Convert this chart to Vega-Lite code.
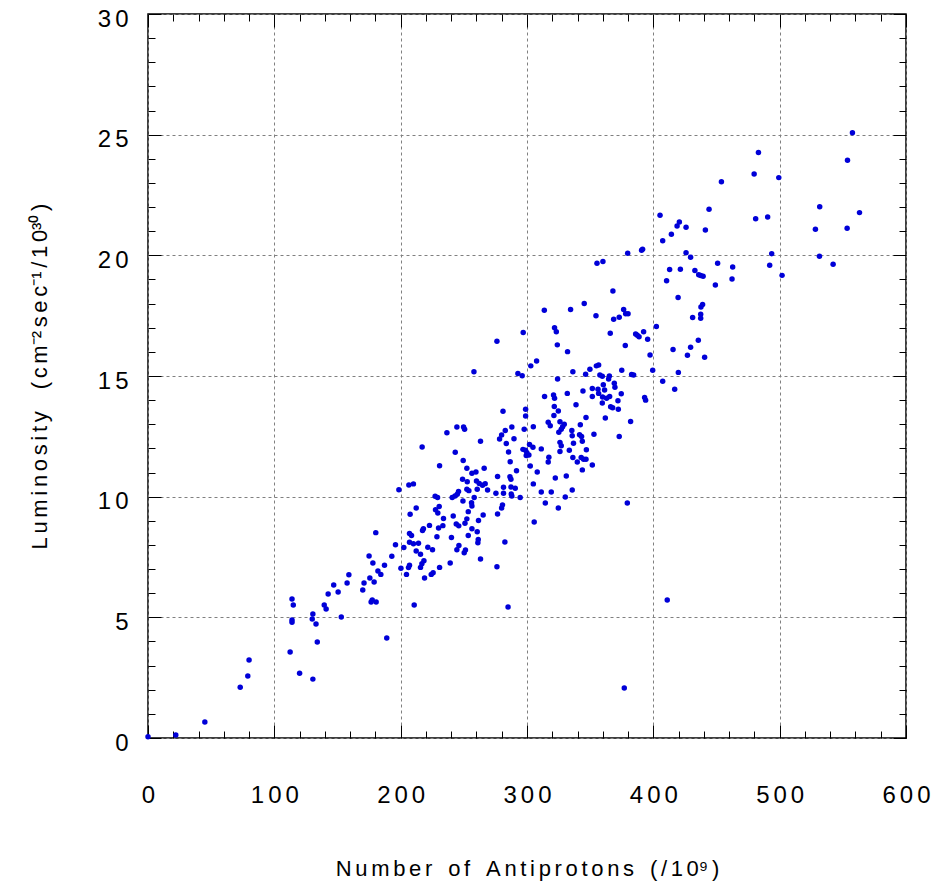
{
"$schema": "https://vega.github.io/schema/vega-lite/v6.json",
"width": 758, "height": 724,
"autosize": "none",
"padding": {"left": 148, "top": 14, "right": 28, "bottom": 151},
"background": "white",
"config": {
 "view": {"stroke": "black", "strokeWidth": 1.5},
 "axis": {"labelFont": "Liberation Sans", "titleFont": "Liberation Sans", "domain": false, "labelColor": "black", "titleColor": "black", "titleFontWeight": "normal", "tickColor": "black", "tickWidth": 1}
},
"data": {"values": [
{"a":0,"l":0.05},{"a":22,"l":0.12},{"a":45,"l":0.66},{"a":73,"l":2.1},{"a":79,"l":2.57},{"a":80,"l":3.23},{"a":112.5,"l":3.56},{"a":120,"l":2.68},{"a":130.5,"l":2.44},{"a":134,"l":3.98},{"a":114,"l":5.76},{"a":115,"l":5.51},{"a":114,"l":4.89},{"a":114,"l":4.8},{"a":130,"l":4.93},{"a":130.5,"l":5.14},{"a":133,"l":4.72},{"a":139.5,"l":5.51},{"a":141,"l":5.35},{"a":142.6,"l":5.97},{"a":147,"l":6.34},{"a":150.5,"l":6.05},{"a":153,"l":5.01},{"a":157.6,"l":6.42},{"a":159,"l":6.76},{"a":170,"l":6.13},{"a":171,"l":6.42},{"a":175,"l":7.54},{"a":175.6,"l":6.63},{"a":178,"l":7.25},{"a":179,"l":6.46},{"a":176.6,"l":5.64},{"a":177.5,"l":5.72},{"a":180.6,"l":5.64},{"a":182,"l":6.92},
{"a":189,"l":4.14},{"a":210.7,"l":5.51},{"a":285,"l":5.43},{"a":377,"l":2.07},{"a":411,"l":5.72},{"a":379.4,"l":9.74},
{"a":281,"l":13.54},{"a":244.5,"l":12.89},{"a":249.8,"l":12.89},{"a":250.6,"l":12.79},{"a":236.6,"l":12.65},{"a":288,"l":12.89},{"a":282.8,"l":12.74},{"a":279.9,"l":12.56},{"a":278.3,"l":12.39},{"a":289.7,"l":12.4},{"a":263.2,"l":12.3},{"a":283.6,"l":12.2},{"a":217,"l":12.06},{"a":243.2,"l":11.84},{"a":285.4,"l":11.85},{"a":249.5,"l":11.5},{"a":286.7,"l":11.45},{"a":230.8,"l":11.28},{"a":252.4,"l":11.18},{"a":266.1,"l":11.18},{"a":291.7,"l":11.07},{"a":256.4,"l":10.97},{"a":259.6,"l":11.02},{"a":276.7,"l":10.84},{"a":286.5,"l":10.83},{"a":287.3,"l":10.72},{"a":249,"l":10.72},{"a":252.7,"l":10.62},{"a":260,"l":10.65},{"a":262.2,"l":10.55},{"a":264.8,"l":10.47},{"a":266.9,"l":10.54},{"a":206.5,"l":10.48},{"a":210.1,"l":10.53},{"a":198.6,"l":10.29},{"a":281.4,"l":10.39},{"a":287.3,"l":10.4},{"a":290.7,"l":10.35},{"a":268.8,"l":10.28},{"a":252.4,"l":10.31},{"a":254,"l":10.25},{"a":260.6,"l":10.31},{"a":245.8,"l":10.21},{"a":244.8,"l":10.1},{"a":243,"l":10.03},{"a":240.8,"l":9.97},{"a":275.4,"l":10.14},{"a":281.4,"l":10.14},{"a":287.5,"l":10.11},{"a":288,"l":10.03},{"a":294.6,"l":9.97},{"a":227.3,"l":10.02},{"a":229.2,"l":9.97},{"a":258.2,"l":9.97},{"a":249.3,"l":9.82},{"a":256.1,"l":9.75},{"a":256.4,"l":9.61},{"a":212.3,"l":9.53},{"a":230.5,"l":9.59},{"a":227.6,"l":9.46},{"a":229.4,"l":9.32},{"a":207.5,"l":9.27},{"a":253.5,"l":9.38},{"a":280.6,"l":9.66},{"a":279.9,"l":9.53},{"a":276.7,"l":9.28},{"a":265.3,"l":9.24},{"a":233.9,"l":9.1},{"a":241.6,"l":9.2},{"a":252.4,"l":9.08},{"a":250.9,"l":8.9},{"a":261.6,"l":9.01},{"a":222.8,"l":8.81},{"a":233.4,"l":8.8},{"a":230,"l":8.7},{"a":244,"l":8.87},{"a":246,"l":8.79},{"a":217.3,"l":8.6},{"a":218,"l":8.67},{"a":256.4,"l":8.67},{"a":260.6,"l":8.55},{"a":207,"l":8.47},{"a":208.6,"l":8.39},{"a":180.3,"l":8.51},{"a":228.7,"l":8.34},{"a":240.2,"l":8.31},{"a":253.5,"l":8.39},{"a":261.4,"l":8.23},{"a":261.1,"l":8.09},{"a":282.5,"l":8.12},{"a":195.9,"l":8.01},{"a":207,"l":8.11},{"a":210.1,"l":8.05},{"a":214.1,"l":8.07},{"a":202.5,"l":7.89},{"a":221.5,"l":7.9},{"a":225.2,"l":7.8},{"a":246.1,"l":7.98},{"a":244.5,"l":7.8},{"a":212.3,"l":7.75},{"a":215.7,"l":7.61},{"a":251.3,"l":7.79},{"a":250.3,"l":7.68},{"a":193,"l":7.53},{"a":187.2,"l":7.16},{"a":218.4,"l":7.34},{"a":216.8,"l":7.22},{"a":215.7,"l":7.07},{"a":207,"l":7.16},{"a":206.2,"l":7.06},{"a":239.2,"l":7.25},{"a":230.8,"l":7.07},{"a":263.2,"l":7.42},{"a":276.2,"l":7.1},{"a":200.2,"l":7.03},{"a":184.3,"l":6.78},{"a":225.7,"l":6.85},{"a":224.2,"l":6.78},{"a":204.6,"l":6.78},{"a":218.9,"l":6.63},
{"a":368,"l":18.52},{"a":345.3,"l":18.0},{"a":334.5,"l":17.76},{"a":313.7,"l":17.72},{"a":354.6,"l":17.5},{"a":368.6,"l":17.35},{"a":373,"l":17.43},{"a":321.8,"l":17.0},{"a":323.2,"l":16.83},{"a":297,"l":16.8},{"a":365.9,"l":16.77},{"a":276.2,"l":16.44},{"a":324,"l":16.29},{"a":332.1,"l":16.01},{"a":307.6,"l":15.62},{"a":303,"l":15.42},{"a":258,"l":15.18},{"a":292.8,"l":15.1},{"a":296.2,"l":15.01},{"a":336.3,"l":15.18},{"a":346.4,"l":15.07},{"a":349.8,"l":15.28},{"a":354.9,"l":15.42},{"a":356.7,"l":15.46},{"a":324.2,"l":14.88},{"a":357.7,"l":15.04},{"a":359.6,"l":14.99},{"a":365.2,"l":15.0},{"a":364.6,"l":14.88},{"a":360.4,"l":14.64},{"a":369.1,"l":14.7},{"a":369.6,"l":14.53},{"a":351.7,"l":14.48},{"a":356.2,"l":14.45},{"a":361.4,"l":14.42},{"a":356.7,"l":14.28},{"a":359.8,"l":14.13},{"a":363,"l":14.08},{"a":365.4,"l":14.15},{"a":344.3,"l":14.38},{"a":351.7,"l":14.15},{"a":331.9,"l":14.28},{"a":321,"l":14.21},{"a":321.8,"l":14.08},{"a":313.9,"l":14.15},{"a":372,"l":13.97},{"a":359.6,"l":13.88},{"a":338.8,"l":13.81},{"a":321.6,"l":13.74},{"a":366.2,"l":13.73},{"a":367.8,"l":13.68},{"a":372.3,"l":13.62},{"a":298.9,"l":13.62},{"a":298.9,"l":13.34},{"a":324.8,"l":13.55},{"a":321.3,"l":13.36},{"a":346.7,"l":13.28},{"a":362,"l":13.26},{"a":316.8,"l":13.08},{"a":318.4,"l":12.94},{"a":326.1,"l":13.1},{"a":329.5,"l":13.0},{"a":328.2,"l":12.9},{"a":327.1,"l":12.79},{"a":342.2,"l":12.98},{"a":325.2,"l":12.67},{"a":335.5,"l":12.74},{"a":353,"l":12.59},{"a":341.6,"l":12.57},{"a":343.2,"l":12.49},{"a":343.8,"l":12.3},{"a":335.8,"l":12.52},{"a":305,"l":12.9},{"a":297.8,"l":12.79},{"a":296.8,"l":11.96},{"a":298.8,"l":11.92},{"a":299.9,"l":11.82},{"a":302,"l":12.16},{"a":304.7,"l":12.05},{"a":301.5,"l":11.73},{"a":299.4,"l":11.71},{"a":311.3,"l":11.98},{"a":326.1,"l":12.25},{"a":327.1,"l":12.11},{"a":326.1,"l":11.87},{"a":333.5,"l":11.92},{"a":336.8,"l":12.21},{"a":336.3,"l":11.62},{"a":342.9,"l":11.62},{"a":344.8,"l":11.55},{"a":346.7,"l":11.55},{"a":317.3,"l":11.63},{"a":373,"l":12.49},
{"a":302.6,"l":11.27},{"a":308.1,"l":11.02},{"a":305,"l":10.53},{"a":311.3,"l":10.19},{"a":316.8,"l":11.44},{"a":322.4,"l":10.77},{"a":319.2,"l":10.19},{"a":314.5,"l":9.74},{"a":305.7,"l":8.95},{"a":324.8,"l":9.53},{"a":330.3,"l":9.99},{"a":331.1,"l":10.86},{"a":335.8,"l":10.28},{"a":339.8,"l":11.44},{"a":347,"l":11.94},{"a":343.8,"l":11.11},{"a":351.7,"l":11.31},
{"a":444.1,"l":21.91},{"a":405.3,"l":21.66},{"a":420.6,"l":21.38},{"a":418.8,"l":21.22},{"a":425.9,"l":21.16},{"a":441.2,"l":21.05},{"a":414.3,"l":20.87},{"a":407.4,"l":20.6},{"a":391.5,"l":20.25},{"a":390.7,"l":20.21},{"a":379.7,"l":20.09},{"a":425.9,"l":20.11},{"a":429.5,"l":19.92},{"a":355.4,"l":19.67},{"a":360.1,"l":19.74},{"a":450.9,"l":19.67},{"a":412.9,"l":19.41},{"a":421.4,"l":19.42},{"a":432.9,"l":19.37},{"a":435.9,"l":19.2},{"a":437.5,"l":19.16},{"a":439.4,"l":19.13},{"a":410.5,"l":18.95},{"a":449.1,"l":18.77},{"a":419.6,"l":18.25},{"a":439,"l":17.96},{"a":437.7,"l":17.86},{"a":376.5,"l":17.76},{"a":378.1,"l":17.58},{"a":380,"l":17.58},{"a":437.5,"l":17.56},{"a":437.5,"l":17.39},{"a":431.1,"l":17.42},{"a":402.4,"l":17.05},{"a":386,"l":16.74},{"a":387.3,"l":16.69},{"a":388.7,"l":16.63},{"a":392.3,"l":16.83},{"a":395.5,"l":16.52},{"a":377.8,"l":16.26},{"a":435.6,"l":16.48},{"a":429.5,"l":16.19},{"a":415.6,"l":16.1},{"a":427,"l":15.86},{"a":440.6,"l":15.78},{"a":397.4,"l":15.87},{"a":399.5,"l":15.24},{"a":419.8,"l":15.15},{"a":407.4,"l":14.78},{"a":416.9,"l":14.45},{"a":375,"l":15.24},{"a":382.8,"l":15.06},{"a":384.4,"l":15.04},{"a":374.6,"l":14.26},{"a":393.1,"l":14.11},{"a":393.9,"l":14.0},{"a":382,"l":13.11},
{"a":557.6,"l":25.08},{"a":483.2,"l":24.26},{"a":553.7,"l":23.94},{"a":479.8,"l":23.37},{"a":499.3,"l":23.22},{"a":453.9,"l":23.05},{"a":531.7,"l":22.01},{"a":563.2,"l":21.77},{"a":481,"l":21.52},{"a":490.5,"l":21.59},{"a":528.3,"l":21.08},{"a":553.4,"l":21.12},{"a":493.7,"l":20.07},{"a":531.5,"l":19.96},{"a":462.8,"l":19.52},{"a":492.1,"l":19.59},{"a":542.3,"l":19.63},{"a":462.3,"l":19.02},{"a":501.9,"l":19.17}
]},
"layer": [
 {
  "mark": {"type": "point", "filled": true, "size": 30, "color": "#0000d8", "opacity": 1},
  "encoding": {
   "x": {"field": "a", "type": "quantitative", "scale": {"domain": [0, 600], "nice": false},
     "axis": {"orient": "bottom", "values": [0,100,200,300,400,500,600], "ticks": false, "grid": true, "gridColor": "#808080", "gridDash": [3,3], "gridWidth": 1,
       "labelFontSize": 24, "labelPadding": 45, "labelExpr": "join(split(datum.label, ''), '\u2006')", "labelFlush": false,
       "title": "N\u2006u\u2006m\u2006b\u2006e\u2006r\u00a0 \u2006o\u2006f\u00a0 \u2006A\u2006n\u2006t\u2006i\u2006p\u2006r\u2006o\u2006t\u2006o\u2006n\u2006s\u00a0 \u2006(\u2006/\u20061\u20060\u2079\u2006)", "titleFontSize": 22, "titlePadding": 51}},
   "y": {"field": "l", "type": "quantitative", "scale": {"domain": [0, 30], "nice": false},
     "axis": {"orient": "left", "values": [0,5,10,15,20,25,30], "ticks": false, "grid": true, "gridColor": "#808080", "gridDash": [3,3], "gridWidth": 1,
       "labelFontSize": 24, "labelPadding": 20, "labelOffset": 5, "labelExpr": "join(split(datum.label, ''), '\u2006')", "labelFlush": false,
       "title": "L\u2006u\u2006m\u2006i\u2006n\u2006o\u2006s\u2006i\u2006t\u2006y\u00a0 \u00a0\u2006(\u2006c\u2006m\u207b\u00b2\u2006s\u2006e\u2006c\u207b\u00b9\u2006/\u20061\u20060\u00b3\u2070\u2006)", "titleFontSize": 22, "titlePadding": 46}}
  }
 },
 {
  "mark": {"type": "point", "opacity": 0},
  "encoding": {
   "x": {"field": "a", "type": "quantitative", "axis": {"orient": "bottom", "values": [0,100,200,300,400,500,600], "labels": false, "grid": false, "ticks": true, "tickSize": -13, "title": null}},
   "y": {"field": "l", "type": "quantitative", "axis": {"orient": "left", "values": [0,5,10,15,20,25,30], "labels": false, "grid": false, "ticks": true, "tickSize": -13, "title": null}}
  }
 },
 {
  "mark": {"type": "point", "opacity": 0},
  "encoding": {
   "x": {"field": "a", "type": "quantitative", "axis": {"orient": "bottom", "values": [20,40,60,80,120,140,160,180,220,240,260,280,320,340,360,380,420,440,460,480,520,540,560,580], "labels": false, "grid": false, "ticks": true, "tickSize": -7, "title": null}},
   "y": {"field": "l", "type": "quantitative", "axis": {"orient": "left", "values": [1,2,3,4,6,7,8,9,11,12,13,14,16,17,18,19,21,22,23,24,26,27,28,29], "labels": false, "grid": false, "ticks": true, "tickSize": -7, "title": null}}
  }
 },
 {
  "mark": {"type": "point", "opacity": 0},
  "encoding": {
   "x": {"field": "a", "type": "quantitative", "axis": {"orient": "top", "values": [0,100,200,300,400,500,600], "labels": false, "grid": false, "ticks": true, "tickSize": -13, "title": null}},
   "y": {"field": "l", "type": "quantitative", "axis": {"orient": "right", "values": [0,5,10,15,20,25,30], "labels": false, "grid": false, "ticks": true, "tickSize": -13, "title": null}}
  }
 },
 {
  "mark": {"type": "point", "opacity": 0},
  "encoding": {
   "x": {"field": "a", "type": "quantitative", "axis": {"orient": "top", "values": [20,40,60,80,120,140,160,180,220,240,260,280,320,340,360,380,420,440,460,480,520,540,560,580], "labels": false, "grid": false, "ticks": true, "tickSize": -7, "title": null}},
   "y": {"field": "l", "type": "quantitative", "axis": {"orient": "right", "values": [1,2,3,4,6,7,8,9,11,12,13,14,16,17,18,19,21,22,23,24,26,27,28,29], "labels": false, "grid": false, "ticks": true, "tickSize": -7, "title": null}}
  }
 }
],
"resolve": {"axis": {"x": "independent", "y": "independent"}}
}
